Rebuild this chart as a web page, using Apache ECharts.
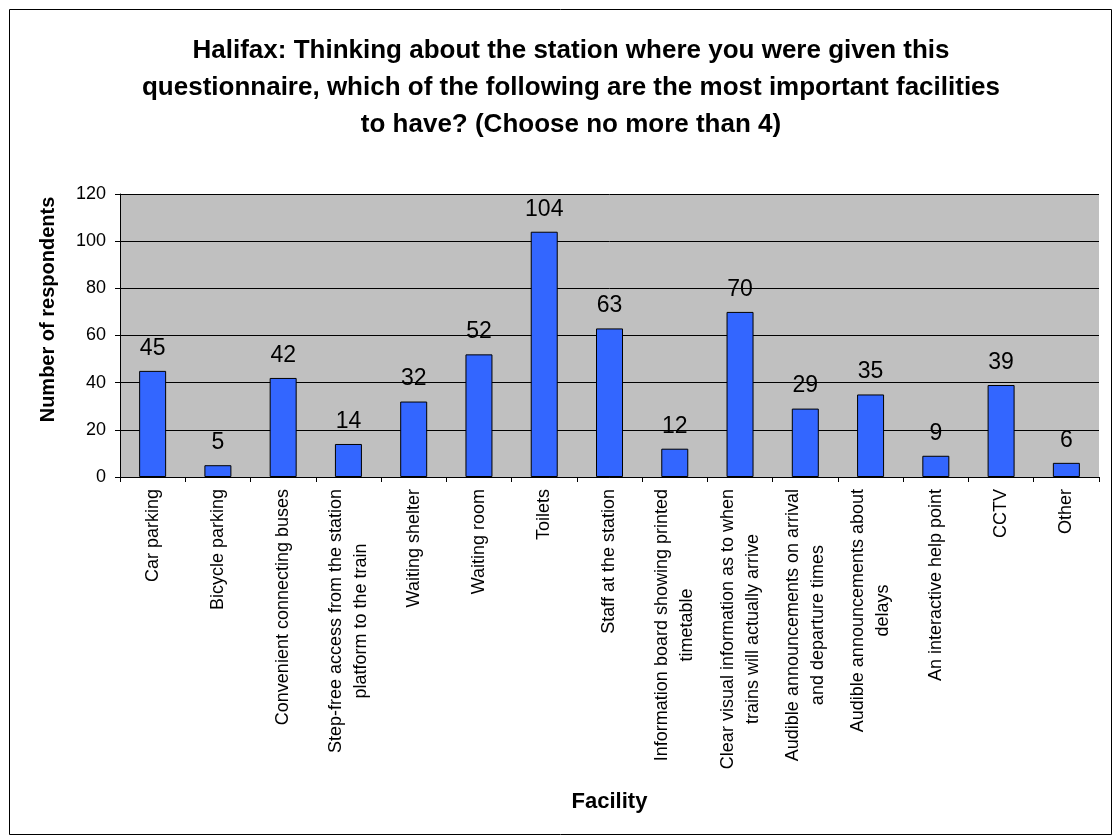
<!DOCTYPE html>
<html>
<head>
<meta charset="utf-8">
<title>Halifax station facilities</title>
<script src="https://cdn.jsdelivr.net/npm/echarts@6/dist/echarts.min.js"></script>
<style>
  html, body { margin: 0; padding: 0; background: #ffffff; }
  #chart { width: 1113px; height: 836px; }
</style>
</head>
<body>
<div id="chart"></div>
<script>
// Facilities asked about in the survey (line breaks as shown under the axis)
const facilities = [
  'Car parking',
  'Bicycle parking',
  'Convenient connecting buses',
  'Step-free access from the station\nplatform to the train',
  'Waiting shelter',
  'Waiting room',
  'Toilets',
  'Staff at the station',
  'Information board showing printed\ntimetable',
  'Clear visual information as to when\ntrains will actually arrive',
  'Audible announcements on arrival\nand departure times',
  'Audible announcements about\ndelays',
  'An interactive help point',
  'CCTV',
  'Other'
];

// Number of respondents choosing each facility
const respondents = [45, 5, 42, 14, 32, 52, 104, 63, 12, 70, 29, 35, 9, 39, 6];

// Value axis range
const yMin = 0;
const yMax = 120;
const yStep = 20;

const FONT = '"Liberation Sans", Arial, Helvetica, sans-serif';

const chart = echarts.init(document.getElementById('chart'), null, { renderer: 'canvas' });

chart.setOption({
  backgroundColor: '#ffffff',
  animation: false,
  title: {
    text: 'Halifax: Thinking about the station where you were given this\nquestionnaire, which of the following are the most important facilities\nto have? (Choose no more than 4)',
    left: 566,
    top: 27,
    textAlign: 'center',
    textStyle: {
      fontFamily: FONT,
      fontSize: 26,
      fontWeight: 'bold',
      color: '#000000',
      lineHeight: 37
    }
  },
  graphic: [{
    type: 'rect',
    silent: true,
    shape: { x: 9.5, y: 9.5, width: 1102, height: 825 },
    style: { fill: null, stroke: '#000000', lineWidth: 1 }
  }],
  grid: {
    left: 120,
    right: 14,
    top: 194,
    bottom: 359,
    show: true,
    backgroundColor: '#c0c0c0',
    borderWidth: 0
  },
  xAxis: {
    type: 'category',
    data: facilities,
    name: 'Facility',
    nameLocation: 'middle',
    nameGap: 314,
    nameTextStyle: {
      fontFamily: FONT,
      fontSize: 22,
      fontWeight: 'bold',
      color: '#000000'
    },
    axisLine: { show: true, lineStyle: { color: '#000000', width: 1 } },
    axisTick: { show: true, length: 5, alignWithLabel: false, lineStyle: { color: '#000000' } },
    axisLabel: {
      interval: 0,
      rotate: 90,
      margin: 12,
      color: '#000000',
      fontFamily: FONT,
      fontSize: 18,
      lineHeight: 25,
      // each line is its own rich token so that wrapped lines centre on each other
      formatter: function (value) {
        return value.split('\n').map(function (s) { return '{c|' + s + '}'; }).join('\n');
      },
      rich: {
        c: {
          align: 'center',
          fontFamily: FONT,
          fontSize: 18,
          lineHeight: 25,
          color: '#000000'
        }
      }
    },
    splitLine: { show: false }
  },
  yAxis: {
    type: 'value',
    min: yMin,
    max: yMax,
    interval: yStep,
    name: 'Number of respondents',
    nameLocation: 'middle',
    nameGap: 62,
    nameTextStyle: {
      fontFamily: FONT,
      fontSize: 20,
      fontWeight: 'bold',
      color: '#000000',
      padding: [0, 0, 0, 52]
    },
    axisLine: { show: true, lineStyle: { color: '#000000', width: 1 } },
    axisTick: { show: true, length: 5, inside: false, lineStyle: { color: '#000000' } },
    axisLabel: {
      margin: 14,
      color: '#000000',
      fontFamily: FONT,
      fontSize: 18
    },
    splitLine: { show: true, lineStyle: { color: '#000000', width: 1 } }
  },
  series: [{
    type: 'bar',
    data: respondents,
    barWidth: 27,
    itemStyle: {
      color: '#3366ff',
      borderColor: '#000000',
      borderWidth: 1
    },
    label: {
      show: true,
      position: 'top',
      distance: 11,
      color: '#000000',
      fontFamily: FONT,
      fontSize: 23
    }
  }]
});
</script>
</body>
</html>
